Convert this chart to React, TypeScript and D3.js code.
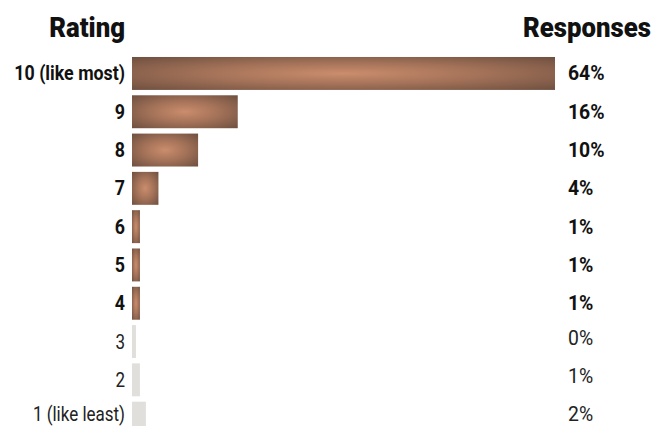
import React from "react";
import * as d3 from "d3";

const ratings = ["10 (like most)", "9", "8", "7", "6", "5", "4", "3", "2", "1 (like least)"];
const shares = [64, 16, 10, 4, 1.2, 1.2, 1.2, 0.6, 1.2, 2.1];
const shareLabels = ["64%", "16%", "10%", "4%", "1%", "1%", "1%", "0%", "1%", "2%"];
const highlighted = [true, true, true, true, true, true, true, false, false, false];

const W = 654;
const H = 426;
const FONT = "Roboto, 'Liberation Sans', sans-serif";

function CText({ x, y, anchor, size, weight, sx, fill, children }: any) {
  return (
    <g transform={`translate(${x},${y}) scale(${sx},1)`}>
      <text x={0} y={0} textAnchor={anchor} fontSize={size} fontWeight={weight} fill={fill}>{children}</text>
    </g>
  );
}

export default function App() {
  const y = d3.scaleBand<string>().domain(ratings).range([54.3, 437.3]).paddingInner(0.14).paddingOuter(0.07);
  const x = d3.scaleLinear().domain([0, 64]).range([132, 555]);
  const n = ratings.length;
  return (
    <svg width={W} height={H} style={{ position: "absolute", left: 0, top: 0, background: "#fff" }} fontFamily={FONT}>
      <defs>
        <radialGradient id="copper" cx="0.5" cy="0.5" r="0.7" gradientUnits="objectBoundingBox">
          <stop offset="0" stopColor="#cb8d6d" />
          <stop offset="0.45" stopColor="#a57359" />
          <stop offset="1" stopColor="#6f5040" />
        </radialGradient>
      </defs>
      <CText x={125} y={37} anchor="end" size={28} weight={900} sx={0.92} fill="#111">Rating</CText>
      <CText x={651} y={37} anchor="end" size={28} weight={900} sx={0.92} fill="#111">Responses</CText>
      {ratings.map((r, i) => {
        const y0 = y(r)!;
        const bw = y.bandwidth();
        const hl = highlighted[i];
        const cy = y0 + bw / 2;
        const last = i === n - 1;
        return (
          <g key={r}>
            <rect x={x(0)} y={y0} width={x(shares[i]) - x(0)} height={bw} fill={hl ? "url(#copper)" : "#e0dfdb"} />
            <CText x={125} y={cy + 7 - (last ? 4 : 0)} anchor="end" size={20} weight={hl ? 700 : 400} sx={hl ? 0.89 : 0.85} fill={hl ? "#111" : "#222"}>{r}</CText>
            <CText x={568} y={cy + 7 - (hl ? 0 : 4)} anchor="start" size={20} weight={hl ? 700 : 400} sx={0.97} fill={hl ? "#111" : "#222"}>{shareLabels[i]}</CText>
          </g>
        );
      })}
    </svg>
  );
}
